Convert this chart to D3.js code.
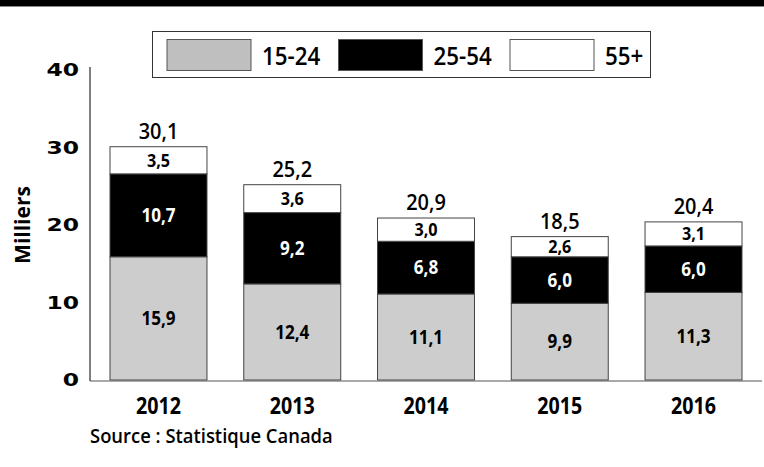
<!DOCTYPE html>
<html>
<head>
<meta charset="utf-8">
<script src="https://d3js.org/d3.v7.min.js"></script>
<style>
  body { margin: 0; background: #fff; }
  svg { display: block; }
  .lbl { font-family: "Open Sans", sans-serif; font-weight: 600; }
</style>
</head>
<body>
<svg id="chart" width="764" height="467"></svg>
<script>
  // data
  const years = ["2012", "2013", "2014", "2015", "2016"]
  const groups = ["15-24", "25-54", "55+"]
  const age1524 = [15.9, 12.4, 11.1, 9.9, 11.3]
  const age2554 = [10.7, 9.2, 6.8, 6.0, 6.0]
  const age55 = [3.5, 3.6, 3.0, 2.6, 3.1]
  const totals = [30.1, 25.2, 20.9, 18.5, 20.4]
  const yTicks = [0, 10, 20, 30, 40]

  const fill = {"15-24": "#cdcdcd", "25-54": "#000", "55+": "#fff"}
  const swatch = {"15-24": "#bfbfbf", "25-54": "#000", "55+": "#fff"}
  const textCol = {"15-24": "#000", "25-54": "#fff", "55+": "#000"}

  const rows = years.map((y, i) => ({year: y, "15-24": age1524[i], "25-54": age2554[i], "55+": age55[i]}))
  const series = d3.stack().keys(groups)(rows)

  const svg = d3.select("#chart")
  const fmt = v => v.toFixed(1).replace(".", ",")

  const x = d3.scaleBand().domain(years).range([110, 742]).paddingInner(0.275).paddingOuter(0)
  const y = d3.scaleLinear().domain([0, 40]).range([380, 70])

  // top black band
  svg.append("rect").attr("x", 0).attr("y", 0).attr("width", 764).attr("height", 6).attr("fill", "#000")
  svg.append("rect").attr("x", 0).attr("y", 6).attr("width", 764).attr("height", 1).attr("fill", "#888")

  // helper for condensed text
  function txt(sel, tx, ty, sx) {
    return sel.attr("transform", "translate(" + tx + "," + ty + ") scale(" + sx + ",1)")
  }

  // bars
  series.forEach(s => {
    const g = svg.append("g")
    g.selectAll("rect").data(s).enter().append("rect")
      .attr("x", d => x(d.data.year))
      .attr("y", d => y(d[1]))
      .attr("width", x.bandwidth())
      .attr("height", d => y(d[0]) - y(d[1]))
      .attr("fill", fill[s.key])
      .attr("stroke", "#444")
      .attr("stroke-width", 1)
    g.selectAll("text").data(s).enter().append("text")
      .attr("class", "lbl")
      .style("font-weight", 700)
      .attr("text-anchor", "middle")
      .attr("dy", "0.36em")
      .attr("font-size", s.key == "55+" ? 18 : 19)
      .attr("fill", textCol[s.key])
      .each(function(d) {
        txt(d3.select(this), x(d.data.year) + x.bandwidth() / 2, (y(d[0]) + y(d[1])) / 2, 0.9)
      })
      .text(d => fmt(d[1] - d[0]))
  })

  // totals
  svg.append("g").selectAll("text").data(years).enter().append("text")
    .attr("class", "lbl")
    .attr("text-anchor", "middle")
    .attr("font-size", 21)
    .each(function(d, i) { txt(d3.select(this), x(d) + x.bandwidth() / 2, y(totals[i]) - 8, 0.95) })
    .text((d, i) => fmt(totals[i]))

  // y axis
  const yAxis = svg.append("g").attr("transform", "translate(90,0)")
    .call(d3.axisLeft(y).tickValues(yTicks).tickSize(0).tickPadding(0))
  yAxis.select(".domain").attr("d", "M0," + (y(40) - 3) + "V" + (y(0) + 1)).attr("stroke", "#000")
  yAxis.selectAll("text")
    .attr("font-family", "DejaVu Sans, sans-serif")
    .attr("font-weight", "bold")
    .attr("font-size", 18)
    .attr("fill", "#000")
    .attr("x", 0)
    .attr("transform", "translate(-11,0) scale(1.3,1)")

  // baseline
  svg.append("line").attr("x1", 90).attr("x2", 762).attr("y1", y(0) + 1).attr("y2", y(0) + 1)
    .attr("stroke", "#555").attr("stroke-width", 1.2)

  // year labels
  svg.append("g").selectAll("text").data(years).enter().append("text")
    .attr("class", "lbl")
    .style("font-weight", 700)
    .attr("text-anchor", "middle")
    .attr("font-size", 24)
    .each(function(d) { txt(d3.select(this), x(d) + x.bandwidth() / 2, 414, 0.82) })
    .text(d => d)

  // y title
  svg.append("text").attr("class", "lbl").style("font-weight", 700)
    .attr("font-size", 21)
    .attr("text-anchor", "middle")
    .attr("transform", "translate(30,225) rotate(-90)")
    .text("Milliers")

  // source
  svg.append("text").attr("class", "lbl")
    .attr("font-size", 19)
    .each(function() { txt(d3.select(this), 90, 443, 0.97) })
    .text("Source : Statistique Canada")

  // legend
  const leg = svg.append("g")
  leg.append("rect").attr("x", 152.5).attr("y", 31.5).attr("width", 498).attr("height", 46)
    .attr("fill", "#fff").attr("stroke", "#333").attr("stroke-width", 1)
  groups.forEach((k, i) => {
    const lx = 167 + i * 171.5
    leg.append("rect").attr("x", lx).attr("y", 39.5).attr("width", 84).attr("height", 31)
      .attr("fill", swatch[k]).attr("stroke", "#555").attr("stroke-width", 1)
    leg.append("text").attr("class", "lbl")
      .attr("font-size", 26)
      .each(function() { txt(d3.select(this), lx + 95, 65, 0.86) })
      .text(k)
  })
</script>
</body>
</html>
